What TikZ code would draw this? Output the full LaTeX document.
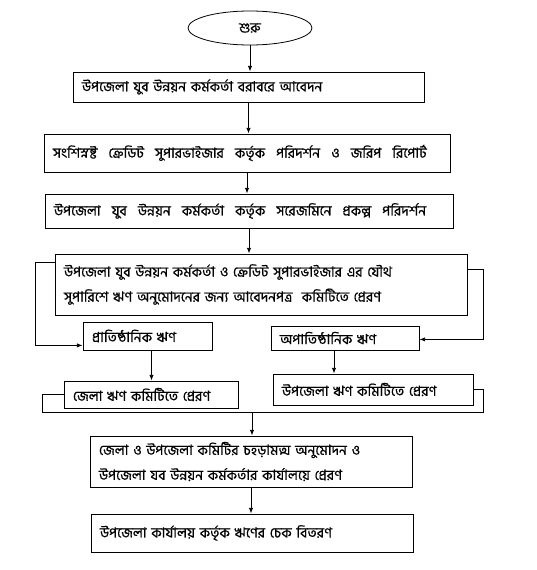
\documentclass[tikz,border=0pt]{standalone}
\usepackage{fontspec}
\newfontfamily\bnfont[Script=Bengali,WordSpace=2.2,FakeBold=0.6]{Hind Siliguri}
\newcommand\bsp{\hspace{11pt}}
\usetikzlibrary{arrows.meta,positioning,shapes.geometric,calc}
\tikzset{
  fblk/.style={rectangle, draw, line width=0.8pt, align=left, inner xsep=9pt, inner ysep=0pt,
               font=\bnfont\fontsize{14}{25}\selectfont},
  fstart/.style={ellipse, draw, line width=0.8pt, font=\bnfont\fontsize{14}{16}\selectfont,
                 minimum width=124pt, minimum height=34pt},
  farr/.style={-{Latex[length=2mm]}, line width=0.8pt},
  fline/.style={line width=0.8pt},
}
\begin{document}
\begin{tikzpicture}[x=1pt,y=-1pt]
        \useasboundingbox (0,0) rectangle (537,570);
        % main column
        \node[fstart](start) at (250,28){শুরু};
        \node[fblk,text width=333pt,minimum height=30pt](apply) at (248.5,87){উপজেলা যুব উন্নয়ন কর্মকর্তা বরাবরে আবেদন};
        \node[fblk,text width=388pt,minimum height=38pt](visit) at (247,153){সংশিস্নষ্ট\bsp ক্রেডিট\bsp সুপারভাইজার\bsp কর্তৃক\bsp পরিদর্শন\bsp ও\bsp জরিপ\bsp রিপোর্ট};
        \node[fblk,text width=390pt,minimum height=34pt](site) at (249,211){উপজেলা\bsp যুব\bsp উন্নয়ন\bsp কর্মকর্তা\bsp কর্তৃক\bsp সরেজমিনে\bsp প্রকল্প\bsp পরিদর্শন};
        \node[fblk,text width=394pt,minimum height=61pt](joint) at (261,284.5){উপজেলা যুব উন্নয়ন কর্মকর্তা ও ক্রেডিট সুপারভাইজার এর যৌথ\\সুপারিশে ঋণ অনুমোদনের জন্য আবেদনপত্র\ \ কমিটিতে প্রেরণ};
        \draw[farr](start)--(start.south |- apply.north);
        \draw[farr](apply)--(apply.south |- visit.north);
        \draw[farr](visit)--(visit.south |- site.north);
        \draw[farr](site)--(site.south |- joint.north);
        % two branches
        \node[fblk,text width=111pt,minimum height=28pt](inst) at (147.5,336){প্রাতিষ্ঠানিক ঋণ};
        \node[fblk,text width=130pt,minimum height=24pt](noninst) at (345,338){অপাতিষ্ঠানিক ঋণ};
        \node[fblk,text width=156pt,minimum height=27pt](dist) at (151,394.5){জেলা ঋণ কমিটিতে প্রেরণ};
        \node[fblk,text width=182pt,minimum height=31pt](upaz) at (373,389.5){উপজেলা ঋণ কমিটিতে প্রেরণ};
        \draw[farr]($(joint.north west)+(0,9)$) -- ++(-19,0) |- ($(inst.south west)+(0,-5)$);
        \draw[farr]($(joint.north east)+(0,16)$) -- ++(16,0) |- ($(noninst.south east)+(0,-11)$);
        \draw[farr]([xshift=4pt]inst.south)--([xshift=4pt]inst.south |- dist.north);
        \draw[farr]([xshift=-11pt]noninst.south)--([xshift=-11pt]noninst.south |- upaz.north);
        % merge
        \coordinate (jl) at (42,412);
        \coordinate (jr) at (483,412);
        \coordinate (jm) at (252,412);
        \draw[fline](dist.west) -| (jl) -- (jr) |- (upaz.east);
        \node[fblk,text width=304pt,minimum height=51pt](final) at (251,461.5){জেলা ও উপজেলা কমিটির চহড়ামত্ম অনুমোদন ও\\উপজেলা যব উন্নয়ন কর্মকর্তার কার্যালয়ে প্রেরণ};
        \node[fblk,text width=304pt,minimum height=38pt](cheque) at (252,533){উপজেলা কার্যালয় কর্তৃক ঋণের চেক বিতরণ};
        \draw[farr](jm)--(jm |- final.north);
        \draw[farr](final)--(final.south |- cheque.north);
    \end{tikzpicture}
\end{document}
